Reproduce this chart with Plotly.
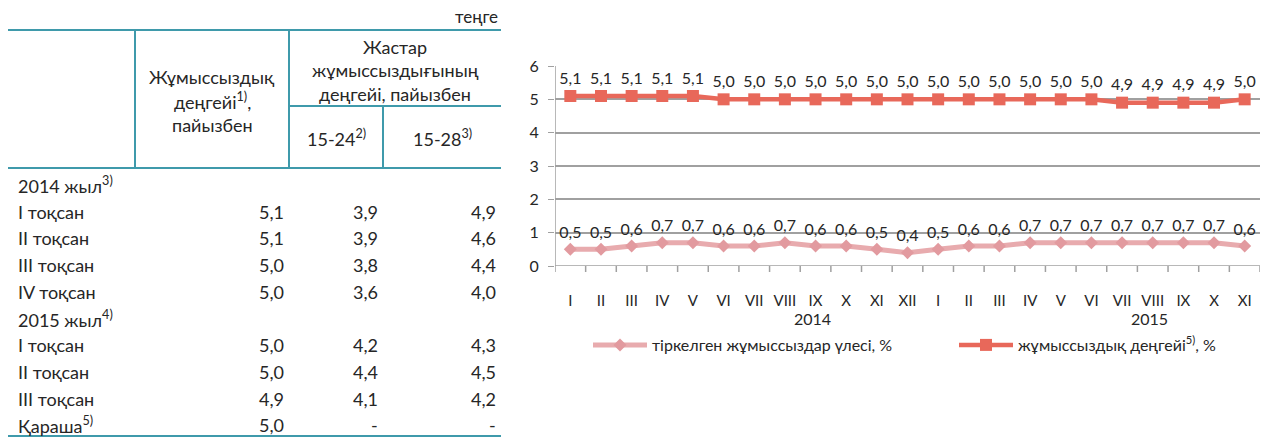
import plotly.graph_objects as go

# ---------------- data ----------------
months = ["I", "II", "III", "IV", "V", "VI", "VII", "VIII", "IX", "X", "XI", "XII",
          "I", "II", "III", "IV", "V", "VI", "VII", "VIII", "IX", "X", "XI"]
years = ["2014", "2015"]
registered_share = [0.5, 0.5, 0.6, 0.7, 0.7, 0.6, 0.6, 0.7, 0.6, 0.6, 0.5, 0.4,
                    0.5, 0.6, 0.6, 0.7, 0.7, 0.7, 0.7, 0.7, 0.7, 0.7, 0.6]
unemployment_rate = [5.1, 5.1, 5.1, 5.1, 5.1, 5.0, 5.0, 5.0, 5.0, 5.0, 5.0, 5.0,
                     5.0, 5.0, 5.0, 5.0, 5.0, 5.0, 4.9, 4.9, 4.9, 4.9, 5.0]
series_names = ["тіркелген жұмыссыздар үлесі, %", "жұмыссыздық деңгейі<sup>5)</sup>, %"]

table_rows = ["2014 жыл<sup>3)</sup>", "I тоқсан", "II тоқсан", "III тоқсан", "IV тоқсан",
              "2015 жыл<sup>4)</sup>", "I тоқсан", "II тоқсан", "III тоқсан", "Қараша<sup>5)</sup>"]
col_rate = ["", "5,1", "5,1", "5,0", "5,0", "", "5,0", "5,0", "4,9", "5,0"]
col_15_24 = ["", "3,9", "3,9", "3,8", "3,6", "", "4,2", "4,4", "4,1", "-"]
col_15_28 = ["", "4,9", "4,6", "4,4", "4,0", "", "4,3", "4,5", "4,2", "-"]
unit_label = "теңге"
header_rate = ["Жұмыссыздық", "деңгейі<sup>1)</sup>,", "пайызбен"]
header_youth = ["Жастар", "жұмыссыздығының", "деңгейі, пайызбен"]
header_sub = ["15-24<sup>2)</sup>", "15-28<sup>3)</sup>"]

# ---------------- styles ----------------
W, H = 1271, 438
RED = "#E8685A"
PINK = "#E8ABAE"
PINK_M = "#E29A9F"
TEAL = "#3F9AAB"
GRID = "#A0A0A0"
TXT = "#262626"
FONT = "Lato, 'Open Sans', sans-serif"

def px(x):
    return x / W

def py(y):
    return 1 - y / H

x_idx = list(range(len(months)))
fmt = lambda v: f"{v:.1f}".replace(".", ",")

fig = go.Figure()
fig.add_trace(go.Scatter(
    x=x_idx, y=registered_share, name=series_names[0],
    mode="lines+markers+text",
    line=dict(color=PINK, width=5),
    marker=dict(symbol="diamond", size=10, color=PINK_M),
    text=[fmt(v) for v in registered_share], textposition="top center",
    textfont=dict(size=16, color=TXT, family=FONT),
    cliponaxis=False,
))
fig.add_trace(go.Scatter(
    x=x_idx, y=unemployment_rate, name=series_names[1],
    mode="lines+markers+text",
    line=dict(color=RED, width=4.5),
    marker=dict(symbol="square", size=12, color=RED),
    text=[fmt(v) for v in unemployment_rate], textposition="top center",
    textfont=dict(size=16, color=TXT, family=FONT),
    cliponaxis=False,
))

fig.update_layout(
    width=W, height=H,
    margin=dict(l=0, r=0, t=0, b=0, autoexpand=False),
    paper_bgcolor="white", plot_bgcolor="white",
    font=dict(family=FONT, size=15, color=TXT),
    showlegend=True,
    legend=dict(orientation="h", x=px(588), y=py(328), xanchor="left", yanchor="top",
                entrywidth=297, entrywidthmode="pixels",
                font=dict(size=16, color=TXT, family=FONT), itemwidth=54),
    xaxis=dict(domain=[px(555), px(1260)], range=[-0.5, len(months) - 0.5],
               tickmode="array", tickvals=x_idx, ticktext=months,
               showgrid=False, zeroline=False, showline=False,
               ticks="", tickfont=dict(size=15, color=TXT), ticklabelstandoff=24),
    yaxis=dict(domain=[py(266), py(66)], range=[0, 6], dtick=1,
               showgrid=True, gridcolor=GRID, gridwidth=1.5, zeroline=False,
               showline=False, ticks="outside", ticklen=6, tickcolor=GRID,
               tickfont=dict(size=16, color=TXT), ticklabelstandoff=6),
)

# x-axis baseline and boundary ticks (categories sit between ticks)
fig.add_shape(type="line", xref="x", yref="y", x0=-0.5, x1=len(months) - 0.5, y0=0, y1=0,
              line=dict(color=GRID, width=1.5))
fig.add_shape(type="line", xref="x", yref="y", x0=-0.5, x1=-0.5, y0=0, y1=6,
              line=dict(color=GRID, width=1.5))
for i in range(len(months) + 1):
    fig.add_shape(type="line", xref="x", yref="paper", x0=i - 0.5, x1=i - 0.5,
                  y0=py(266), y1=py(272), line=dict(color=GRID, width=1.5))

# year labels
for yr, xpos in zip(years, [7.9, 18.9]):
    fig.add_annotation(x=xpos, xref="x", y=py(318), yref="paper", text=yr,
                       showarrow=False, yanchor="middle", font=dict(size=16, color=TXT, family=FONT))

# ---------------- table ----------------
line = dict(color=TEAL, width=2)
def hline(x0, x1, y):
    fig.add_shape(type="line", xref="paper", yref="paper", x0=px(x0), x1=px(x1), y0=py(y), y1=py(y), line=line)
def vline(x, y0, y1):
    fig.add_shape(type="line", xref="paper", yref="paper", x0=px(x), x1=px(x), y0=py(y0), y1=py(y1), line=line)

hline(8, 501, 30)
hline(8, 501, 168)
hline(8, 501, 436)
hline(289, 501, 106)
vline(135, 30, 168)
vline(289, 30, 168)
vline(383, 106, 168)

TF = dict(size=18, color=TXT, family=FONT)
def txt(x, y, s, anchor="center", font=TF):
    fig.add_annotation(x=px(x), y=py(y), xref="paper", yref="paper", text=s,
                       showarrow=False, xanchor=anchor, yanchor="middle", font=font)

txt(500, 17, unit_label, "right", dict(size=17, color=TXT, family=FONT))
for k, s in enumerate(header_rate):
    txt(212, 77 + k * 24, s)
for k, s in enumerate(header_youth):
    txt(395, 47 + k * 23.5, s)
for s, xc in zip(header_sub, [336, 442]):
    txt(xc, 138, s)

row_y0, row_dy = 185, 26.7
for i, lbl in enumerate(table_rows):
    yy = row_y0 + i * row_dy
    txt(16, yy, lbl, "left")
    for col, xr in zip([col_rate, col_15_24, col_15_28], [286, 380, 498]):
        if col[i]:
            txt(xr, yy, col[i], "right")

fig.write_html("out.html", config={"displayModeBar": False},
               post_script="document.body.style.margin='0';document.body.style.overflow='hidden';")
